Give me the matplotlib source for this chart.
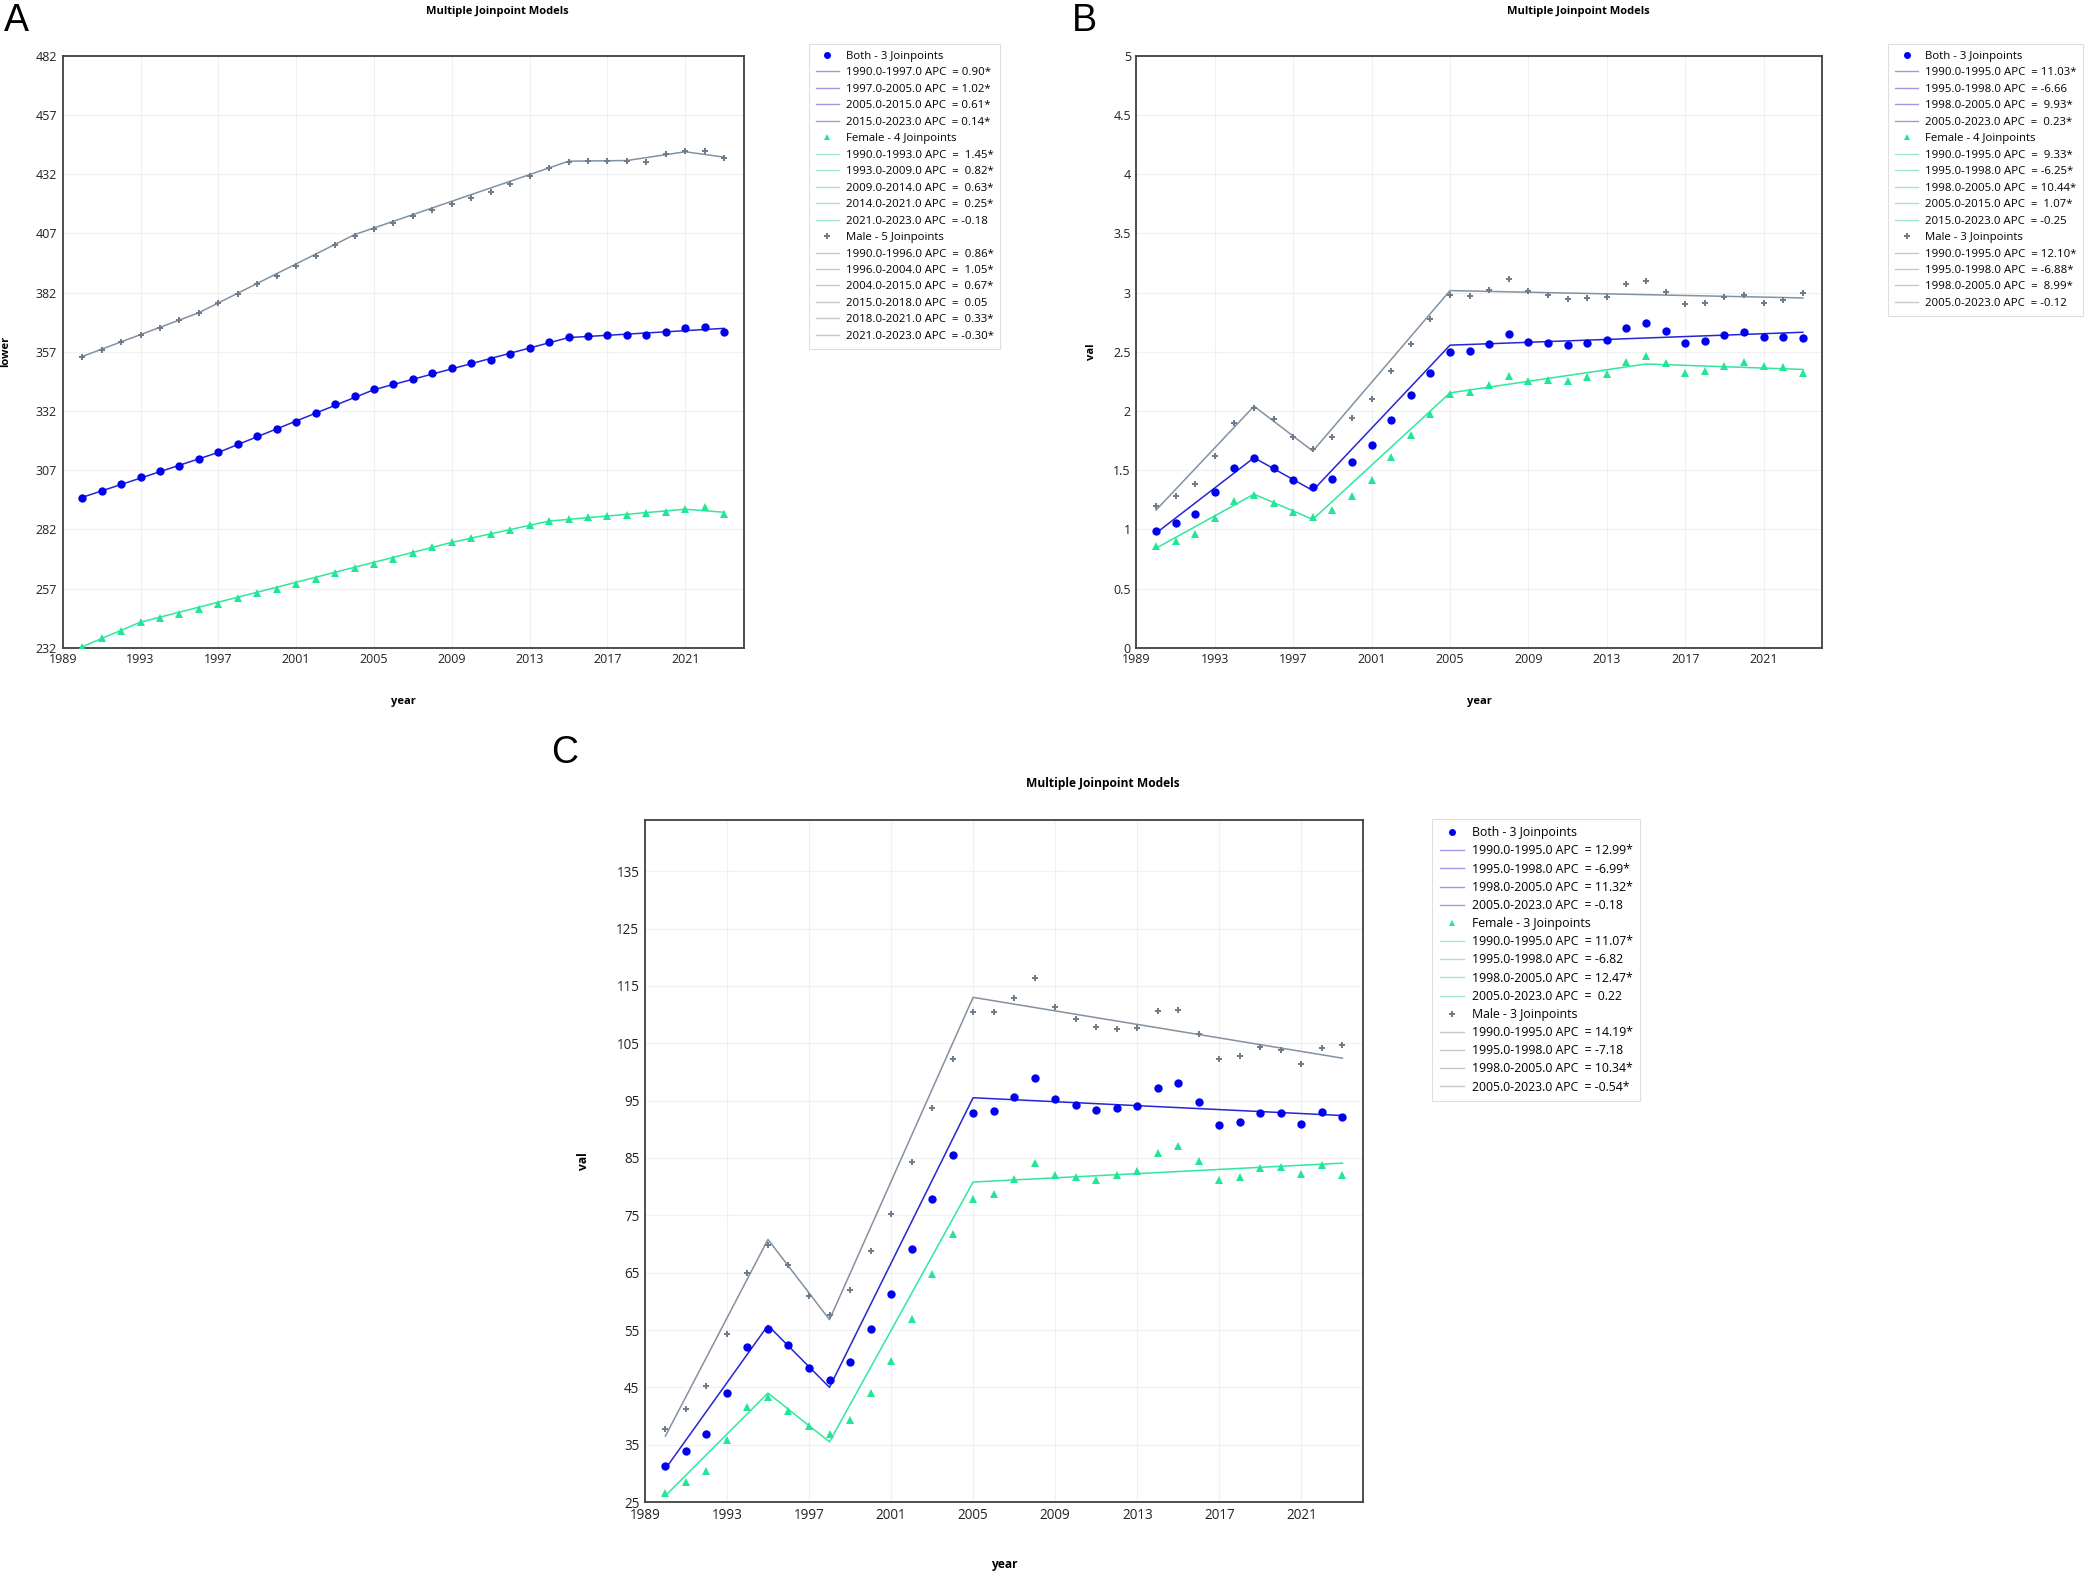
import matplotlib
matplotlib.use("Agg")
import matplotlib.pyplot as plt
from matplotlib.lines import Line2D
from matplotlib.ticker import FuncFormatter

plt.rcParams["font.family"] = ["Open Sans", "DejaVu Sans"]

years = list(range(1990, 2024))

# ---------------- panel A (lower) ----------------
a_both = [295.3, 298.2, 301.1, 304.0, 306.7, 308.9, 311.8, 314.7, 318.2, 321.5,
          324.4, 327.5, 331.1, 334.8, 338.5, 341.2, 343.2, 345.5, 348.0, 350.1,
          352.1, 353.6, 355.9, 358.5, 361.2, 363.1, 363.5, 363.9, 364.1, 364.3,
          365.4, 367.0, 367.6, 365.2]
a_female = [232.4, 235.9, 239.2, 242.7, 244.6, 246.3, 248.3, 250.6, 252.9, 255.0,
            257.0, 258.9, 261.2, 263.4, 265.5, 267.4, 269.6, 271.9, 274.4, 276.7,
            278.5, 280.2, 281.8, 283.7, 285.5, 286.2, 287.0, 287.6, 288.2, 288.9,
            289.5, 290.5, 291.6, 288.5]
a_male = [354.8, 357.7, 361.0, 364.1, 367.2, 370.3, 373.4, 377.4, 381.5, 385.6,
          389.2, 393.3, 397.6, 402.0, 406.1, 409.0, 411.5, 414.2, 416.9, 419.6,
          421.8, 424.7, 428.0, 431.3, 434.6, 437.3, 437.7, 437.7, 437.7, 437.2,
          440.6, 441.7, 441.9, 438.8]
a_both_jp = [1990, 1997, 2005, 2015, 2023]
a_both_fit = [295.5, 314.5, 341.0, 363.0, 366.9]
a_female_jp = [1990, 1993, 2009, 2014, 2021, 2023]
a_female_fit = [232.4, 242.8, 276.5, 285.5, 290.5, 289.2]
a_male_jp = [1990, 1996, 2004, 2015, 2018, 2021, 2023]
a_male_fit = [355.0, 373.5, 406.5, 437.5, 437.8, 441.5, 439.2]
a_both_labels = ["1990.0-1997.0 APC  = 0.90*", "1997.0-2005.0 APC  = 1.02*",
                 "2005.0-2015.0 APC  = 0.61*", "2015.0-2023.0 APC  = 0.14*"]
a_female_labels = ["1990.0-1993.0 APC  =  1.45*", "1993.0-2009.0 APC  =  0.82*",
                   "2009.0-2014.0 APC  =  0.63*", "2014.0-2021.0 APC  =  0.25*",
                   "2021.0-2023.0 APC  = -0.18"]
a_male_labels = ["1990.0-1996.0 APC  =  0.86*", "1996.0-2004.0 APC  =  1.05*",
                 "2004.0-2015.0 APC  =  0.67*", "2015.0-2018.0 APC  =  0.05",
                 "2018.0-2021.0 APC  =  0.33*", "2021.0-2023.0 APC  = -0.30*"]
a_yticks = [232, 257, 282, 307, 332, 357, 382, 407, 432, 457, 482]

# ---------------- panel B (val) ----------------
b_both = [0.988, 1.053, 1.127, 1.313, 1.514, 1.600, 1.518, 1.417, 1.356, 1.429,
          1.565, 1.716, 1.921, 2.134, 2.320, 2.502, 2.510, 2.568, 2.653, 2.583,
          2.572, 2.556, 2.575, 2.599, 2.703, 2.746, 2.672, 2.575, 2.595, 2.641,
          2.665, 2.622, 2.622, 2.618]
b_female = [0.856, 0.902, 0.957, 1.092, 1.239, 1.290, 1.224, 1.150, 1.108, 1.166,
            1.282, 1.421, 1.607, 1.801, 1.975, 2.142, 2.157, 2.219, 2.297, 2.254,
            2.262, 2.250, 2.285, 2.316, 2.417, 2.467, 2.405, 2.320, 2.335, 2.382,
            2.413, 2.382, 2.370, 2.324]
b_male = [1.193, 1.282, 1.387, 1.623, 1.902, 2.029, 1.929, 1.778, 1.677, 1.782,
          1.940, 2.103, 2.339, 2.568, 2.777, 2.978, 2.971, 3.021, 3.118, 3.017,
          2.982, 2.947, 2.955, 2.967, 3.071, 3.098, 3.005, 2.901, 2.912, 2.963,
          2.982, 2.916, 2.936, 2.998]
b_both_jp = [1990, 1995, 1998, 2005, 2023]
b_both_fit = [0.968, 1.605, 1.328, 2.556, 2.665]
b_female_jp = [1990, 1995, 1998, 2005, 2015, 2023]
b_female_fit = [0.840, 1.297, 1.084, 2.153, 2.397, 2.351]
b_male_jp = [1990, 1995, 1998, 2005, 2023]
b_male_fit = [1.162, 2.040, 1.661, 3.017, 2.955]
b_both_labels = ["1990.0-1995.0 APC  = 11.03*", "1995.0-1998.0 APC  = -6.66",
                 "1998.0-2005.0 APC  =  9.93*", "2005.0-2023.0 APC  =  0.23*"]
b_female_labels = ["1990.0-1995.0 APC  =  9.33*", "1995.0-1998.0 APC  = -6.25*",
                   "1998.0-2005.0 APC  = 10.44*", "2005.0-2015.0 APC  =  1.07*",
                   "2015.0-2023.0 APC  = -0.25"]
b_male_labels = ["1990.0-1995.0 APC  = 12.10*", "1995.0-1998.0 APC  = -6.88*",
                 "1998.0-2005.0 APC  =  8.99*", "2005.0-2023.0 APC  = -0.12"]
b_yticks = [0, 0.5, 1, 1.5, 2, 2.5, 3, 3.5, 4, 4.5, 5]

# ---------------- panel C (val) ----------------
c_both = [31.3, 33.9, 36.9, 44.0, 52.0, 55.2, 52.3, 48.4, 46.3, 49.5,
          55.2, 61.2, 69.2, 77.8, 85.6, 92.8, 93.2, 95.7, 98.9, 95.3,
          94.2, 93.3, 93.7, 94.1, 97.2, 98.0, 94.7, 90.8, 91.3, 92.9,
          92.8, 91.0, 93.1, 92.2]
c_female = [26.6, 28.5, 30.5, 35.8, 41.5, 43.3, 40.8, 38.2, 36.9, 39.3,
            44.0, 49.6, 56.9, 64.8, 71.8, 77.9, 78.7, 81.4, 84.2, 82.1,
            81.6, 81.1, 82.1, 82.8, 85.9, 87.1, 84.5, 81.1, 81.7, 83.3,
            83.4, 82.2, 83.8, 82.0]
c_male = [37.7, 41.2, 45.3, 54.3, 65.0, 69.8, 66.4, 60.9, 57.7, 61.9,
          68.8, 75.2, 84.3, 93.7, 102.3, 110.5, 110.5, 112.9, 116.3, 111.3,
          109.2, 107.9, 107.5, 107.6, 110.7, 110.8, 106.6, 102.3, 102.8, 104.3,
          103.9, 101.4, 104.2, 104.7]
c_both_jp = [1990, 1995, 1998, 2005, 2023]
c_both_fit = [30.8, 55.8, 45.0, 95.5, 92.4]
c_female_jp = [1990, 1995, 1998, 2005, 2023]
c_female_fit = [26.1, 44.0, 35.5, 80.8, 84.1]
c_male_jp = [1990, 1995, 1998, 2005, 2023]
c_male_fit = [36.5, 70.8, 56.8, 113.0, 102.4]
c_both_labels = ["1990.0-1995.0 APC  = 12.99*", "1995.0-1998.0 APC  = -6.99*",
                 "1998.0-2005.0 APC  = 11.32*", "2005.0-2023.0 APC  = -0.18"]
c_female_labels = ["1990.0-1995.0 APC  = 11.07*", "1995.0-1998.0 APC  = -6.82",
                   "1998.0-2005.0 APC  = 12.47*", "2005.0-2023.0 APC  =  0.22"]
c_male_labels = ["1990.0-1995.0 APC  = 14.19*", "1995.0-1998.0 APC  = -7.18",
                 "1998.0-2005.0 APC  = 10.34*", "2005.0-2023.0 APC  = -0.54*"]
c_yticks = [25, 35, 45, 55, 65, 75, 85, 95, 105, 115, 125, 135]

x_ticks = list(range(1989, 2022, 4))

BLUE = "#0000ee"
BLUE_LINE = "#2424d8"
GREEN = "#22e695"
GREEN_LINE = "#2ee89e"
GRAY = "#6f7c8c"
GRAY_LINE = "#8391a0"
LEG_BLUE = "#9a9ae8"
LEG_GREEN = "#9ee8d2"
LEG_GRAY = "#c4c8cc"


def draw_panel(fig, rect, letter, letter_xy, title_xy, ylabel, ylabel_x, ylim, yticks,
               both, female, male, fits, labels, n_jp, legend_xy, scale=1.0, spacing=0.48):
    ax = fig.add_axes(rect)
    ax.set_xlim(1989, 2024)
    ax.set_ylim(*ylim)
    ax.set_xticks(x_ticks)
    ax.set_yticks(yticks)
    ax.yaxis.set_major_formatter(FuncFormatter(lambda v, p: f"{v:g}"))
    ax.grid(True, color="#f0f0f0", linewidth=0.8)
    ax.set_axisbelow(True)
    ax.tick_params(length=0, pad=4, labelsize=9 * scale, colors="#222222")
    for sp in ax.spines.values():
        sp.set_color("#404040")
        sp.set_linewidth(1.3)

    (bj, bf), (fj, ff), (mj, mf) = fits
    ax.plot(mj, mf, color=GRAY_LINE, lw=1.1, zorder=2)
    ax.plot(bj, bf, color=BLUE_LINE, lw=1.1, zorder=2)
    ax.plot(fj, ff, color=GREEN_LINE, lw=1.1, zorder=2)
    ax.plot(years, male, ls="none", marker="P", ms=5, color=GRAY, mew=0, zorder=3)
    ax.plot(years, both, ls="none", marker="o", ms=6, color=BLUE, mew=0, zorder=3)
    ax.plot(years, female, ls="none", marker="^", ms=5.6, color=GREEN, mew=0, zorder=3)

    ax.set_xlabel("year", fontsize=8 * scale, fontweight="bold")
    ax.xaxis.set_label_coords(0.5, -0.082)
    ax.set_ylabel(ylabel, fontsize=8 * scale, fontweight="bold")
    ax.yaxis.set_label_coords(ylabel_x, 0.5)

    fig.text(title_xy[0], title_xy[1], "Multiple Joinpoint Models", fontsize=8 * scale,
             fontweight="bold", ha="center", va="center")
    fig.text(letter_xy[0], letter_xy[1], letter, fontsize=27, family="Liberation Sans",
             ha="left", va="top")

    handles, texts = [], []
    groups = [("Both", "o", BLUE, LEG_BLUE, labels[0], n_jp[0]),
              ("Female", "^", GREEN, LEG_GREEN, labels[1], n_jp[1]),
              ("Male", "P", GRAY, LEG_GRAY, labels[2], n_jp[2])]
    for name, mk, col, lcol, seg_labels, n in groups:
        handles.append(Line2D([], [], ls="none", marker=mk, color=col, ms=5, mew=0))
        texts.append(f"{name} - {n} Joinpoints")
        for lab in seg_labels:
            handles.append(Line2D([], [], color=lcol, lw=1.0))
            texts.append(lab)
    leg = ax.legend(handles, texts, loc="upper left", bbox_to_anchor=legend_xy,
                    bbox_transform=fig.transFigure, fontsize=8.2 * scale, frameon=True,
                    fancybox=False, edgecolor="#d8d8d8", handlelength=2.0,
                    handletextpad=0.6, labelspacing=spacing,
                    borderpad=0.6, borderaxespad=0)
    leg.get_frame().set_linewidth(0.8)
    return ax


fig = plt.figure(figsize=(20.89, 15.74), dpi=100)

draw_panel(fig, [0.030, 0.5885, 0.326, 0.376], "A", (0.002, 0.998), (0.238, 0.993),
           "lower", -0.076, (232, 482), a_yticks, a_both, a_female, a_male,
           [(a_both_jp, a_both_fit), (a_female_jp, a_female_fit), (a_male_jp, a_male_fit)],
           [a_both_labels, a_female_labels, a_male_labels], (3, 4, 5), (0.3873, 0.972))

draw_panel(fig, [0.544, 0.5885, 0.3284, 0.376], "B", (0.513, 0.998), (0.7557, 0.993),
           "val", -0.058, (0, 5), b_yticks, b_both, b_female, b_male,
           [(b_both_jp, b_both_fit), (b_female_jp, b_female_fit), (b_male_jp, b_male_fit)],
           [b_both_labels, b_female_labels, b_male_labels], (3, 4, 3), (0.904, 0.972))

draw_panel(fig, [0.3087, 0.0457, 0.3437, 0.4336], "C", (0.264, 0.533), (0.528, 0.502),
           "val", -0.076, (25, 144), c_yticks, c_both, c_female, c_male,
           [(c_both_jp, c_both_fit), (c_female_jp, c_female_fit), (c_male_jp, c_male_fit)],
           [c_both_labels, c_female_labels, c_male_labels], (3, 3, 3), (0.6856, 0.4797),
           scale=1.08, spacing=0.42)

fig.savefig("out.png", dpi=100)
